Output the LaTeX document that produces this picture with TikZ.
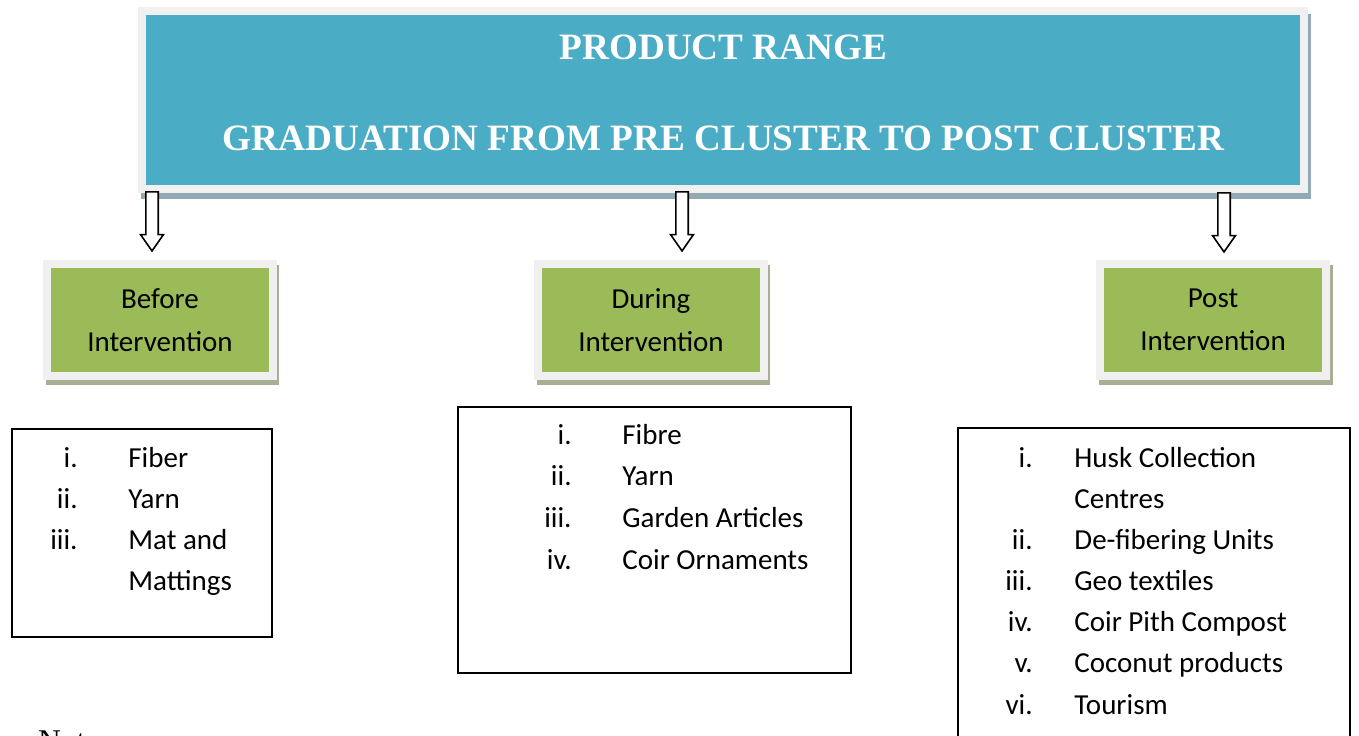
\documentclass[tikz,border=0pt]{standalone}
\usepackage{fontspec}
\setmainfont{Carlito}
\newfontfamily\titlefont{Liberation Serif}
\usetikzlibrary{shapes.arrows}

\definecolor{bannerblue}{HTML}{4BACC6}
\definecolor{framegray}{HTML}{F0F0F0}
\definecolor{bannershade}{HTML}{92AAB4}
\definecolor{stagegreen}{HTML}{9BBB59}
\definecolor{stageshade}{HTML}{A8AF92}

\tikzset{
  banner/.style = {fill=bannerblue, draw=framegray, line width=4pt,
                   minimum width=581pt, minimum height=89pt, inner sep=0pt},
  bannertext/.style = {anchor=base, text=white,
                   font=\titlefont\bfseries\fontsize{18.6}{22}\selectfont},
  stage/.style = {fill=stagegreen, draw=framegray, line width=4pt,
                  minimum width=113pt, minimum height=56pt, inner sep=0pt,
                  align=center, font=\fontsize{14.5}{21.5}\selectfont},
  hollowarrow/.style = {single arrow, shape border rotate=270, draw=black,
                  fill=white, line width=0.8pt, inner sep=2.7pt,
                  minimum height=29.5pt, single arrow head extend=2.6pt,
                  single arrow tip angle=70},
  listbox/.style = {draw=black, line width=1pt, inner sep=0pt},
  num/.style = {anchor=base east, inner sep=0pt, font=\fontsize{14.5}{17}\selectfont},
  item/.style = {anchor=base west, inner sep=0pt, font=\fontsize{14.5}{17}\selectfont},
}

\begin{document}
\begin{tikzpicture}[x=0.5pt, y=-0.5pt]
   \useasboundingbox (0,0) rectangle (1359,735);

   % title banner
   \fill[bannershade] (141,14) rectangle (1311,199);
   \node[banner] (banner) at (723,100) {};
   \node[bannertext] (range) at (723.5,59) {PRODUCT RANGE};
   \node[bannertext] (graduation) at (723.5,150) {GRADUATION FROM PRE CLUSTER TO POST CLUSTER};

   % stages
   \fill[stageshade] (46,265) rectangle (279,385);
   \fill[stageshade] (537,265) rectangle (770,385);
   \fill[stageshade] (1099,265) rectangle (1333,385);
   \node[stage] (before) at (160,320) {Before\\Intervention};
   \node[stage] (during) at (651,320) {During\\Intervention};
   \node[stage] (post) at (1213,320) {Post\\Intervention};

   % arrows down from the banner
   \node[hollowarrow] (arrbefore) at (152,217) {};
   \node[hollowarrow] (arrduring) at (682,217) {};
   \node[hollowarrow] (arrpost) at (1224,218) {};

   % product lists
   \node[listbox, minimum width=130pt, minimum height=104pt] (listbefore) at (142,533) {};
   \node[listbox, minimum width=196.5pt, minimum height=133pt] (listduring) at (654,539.5) {};
   \node[listbox, minimum width=196pt, minimum height=166pt] (listpost) at (1153.5,594) {};

   \node[num] (b1) at (78,467) {i.};
   \node[item] (bf) at (128,467) {Fiber};
   \node[num] (b2) at (78,508) {ii.};
   \node[item] (by) at (128,508) {Yarn};
   \node[num] (b3) at (78,549) {iii.};
   \node[item] (bm) at (128,549) {Mat and};
   \node[item] (bm2) at (128,590) {Mattings};

   \node[num] (d1) at (572,444) {i.};
   \node[item] (df) at (622,444) {Fibre};
   \node[num] (d2) at (572,485) {ii.};
   \node[item] (dy) at (622,485) {Yarn};
   \node[num] (d3) at (572,527) {iii.};
   \node[item] (dg) at (622,527) {Garden Articles};
   \node[num] (d4) at (572,569) {iv.};
   \node[item] (dc) at (622,569) {Coir Ornaments};

   \node[num] (p1) at (1033,467) {i.};
   \node[item] (ph) at (1074,467) {Husk Collection};
   \node[item] (ph2) at (1074,508) {Centres};
   \node[num] (p2) at (1033,549) {ii.};
   \node[item] (pd) at (1074,549) {De-fibering Units};
   \node[num] (p3) at (1033,590) {iii.};
   \node[item] (pg) at (1074,590) {Geo textiles};
   \node[num] (p4) at (1033,631) {iv.};
   \node[item] (pc) at (1074,631) {Coir Pith Compost};
   \node[num] (p5) at (1033,672) {v.};
   \node[item] (pn) at (1074,672) {Coconut products};
   \node[num] (p6) at (1033,714) {vi.};
   \node[item] (pt) at (1074,714) {Tourism};

   \node[anchor=base west, font=\titlefont\fontsize{15.8}{19}\selectfont] (note) at (31,751) {Note:};
\end{tikzpicture}
\end{document}
